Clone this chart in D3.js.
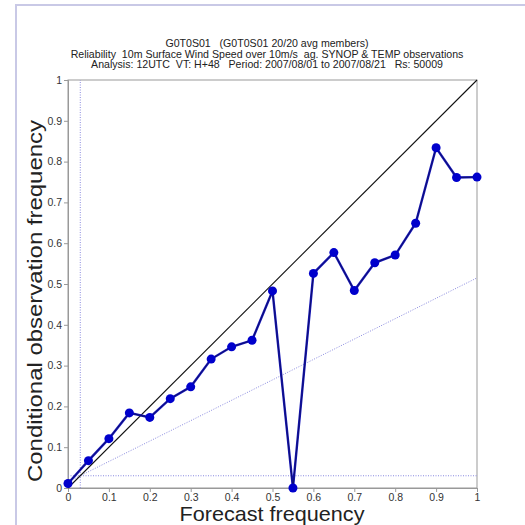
<!DOCTYPE html>
<html>
<head>
<meta charset="utf-8">
<script src="https://cdn.jsdelivr.net/npm/d3@7"></script>
<style>
  body { margin: 0; background: #fff; }
  svg { font-family: "Liberation Sans", Arial, sans-serif; }
  .tick text { fill: #333; font-size: 10.5px; }
  .title { font-size: 10.6px; fill: #222; text-anchor: middle; white-space: pre; }
</style>
</head>
<body>
<svg width="525" height="525"></svg>
<script>
// forecast probability bins and observed frequency
var forecastProb = [0, 0.05, 0.1, 0.15, 0.2, 0.25, 0.3, 0.35, 0.4, 0.45, 0.5,
                    0.55, 0.6, 0.65, 0.7, 0.75, 0.8, 0.85, 0.9, 0.95, 1];
var obsFreq = [0.011, 0.067, 0.121, 0.184, 0.173, 0.219, 0.248, 0.316, 0.346, 0.362, 0.483,
               0.0, 0.526, 0.577, 0.484, 0.552, 0.571, 0.649, 0.834, 0.761, 0.762];
var climate = 0.03;
var tickValues = [0, 0.1, 0.2, 0.3, 0.4, 0.5, 0.6, 0.7, 0.8, 0.9, 1];
var titleLines = [
    'G0T0S01   (G0T0S01 20/20 avg members)',
    'Reliability  10m Surface Wind Speed over 10m/s  ag. SYNOP & TEMP observations',
    'Analysis: 12UTC  VT: H+48   Period: 2007/08/01 to 2007/08/21   Rs: 50009'
];

var svg = d3.select('svg');

// outer frame
svg.append('rect')
    .attr('x', 16).attr('y', 5)
    .attr('width', 540).attr('height', 540)
    .attr('fill', 'none')
    .attr('stroke', '#c9c9e6')
    .attr('stroke-width', 2);

var xScale = d3.scaleLinear().domain([0, 1]).range([68, 477]);
var yScale = d3.scaleLinear().domain([0, 1]).range([488, 80]);

// titles
svg.selectAll('.title')
    .data(titleLines)
    .enter().append('text')
    .attr('class', 'title')
    .attr('x', 267)
    .attr('y', function (d, i) { return 47 + i * 10.5; })
    .text(function (d) { return d; });

// plot box
svg.append('rect')
    .attr('x', xScale(0)).attr('y', yScale(1))
    .attr('width', xScale(1) - xScale(0))
    .attr('height', yScale(0) - yScale(1))
    .attr('fill', 'none')
    .attr('stroke', '#999')
    .attr('stroke-width', 1);

// axes
var xAxis = d3.axisBottom(xScale).tickValues(tickValues).tickSize(4).tickPadding(2)
    .tickFormat(d3.format('~g'));
var yAxis = d3.axisLeft(yScale).tickValues(tickValues).tickSize(4).tickPadding(2)
    .tickFormat(d3.format('~g'));

var gx = svg.append('g').attr('transform', 'translate(0,' + yScale(0) + ')').call(xAxis);
var gy = svg.append('g').attr('transform', 'translate(' + xScale(0) + ',0)').call(yAxis);
[gx, gy].forEach(function (g) {
    g.select('.domain').attr('stroke', '#999');
    g.selectAll('.tick line').attr('stroke', '#999');
});

// climatology lines
var dotted = { stroke: '#8a8ae0', width: 1, dash: '1,1.5' };
svg.append('line')
    .attr('x1', xScale(climate)).attr('x2', xScale(climate))
    .attr('y1', yScale(0)).attr('y2', yScale(1))
    .attr('stroke', dotted.stroke).attr('stroke-width', dotted.width)
    .attr('stroke-dasharray', dotted.dash);
svg.append('line')
    .attr('x1', xScale(0)).attr('x2', xScale(1))
    .attr('y1', yScale(climate)).attr('y2', yScale(climate))
    .attr('stroke', dotted.stroke).attr('stroke-width', dotted.width)
    .attr('stroke-dasharray', dotted.dash);
// no-skill line
svg.append('line')
    .attr('x1', xScale(0)).attr('x2', xScale(1))
    .attr('y1', yScale(climate / 2)).attr('y2', yScale((1 + climate) / 2))
    .attr('stroke', dotted.stroke).attr('stroke-width', dotted.width)
    .attr('stroke-dasharray', dotted.dash);

// perfect reliability diagonal
svg.append('line')
    .attr('x1', xScale(0)).attr('x2', xScale(1))
    .attr('y1', yScale(0)).attr('y2', yScale(1))
    .attr('stroke', '#111').attr('stroke-width', 1.1);

// reliability curve
var pts = forecastProb.map(function (p, i) { return [p, obsFreq[i]]; });
var line = d3.line()
    .x(function (d) { return xScale(d[0]); })
    .y(function (d) { return yScale(d[1]); });

svg.append('path')
    .datum(pts)
    .attr('d', line)
    .attr('fill', 'none')
    .attr('stroke', '#1616b8')
    .attr('stroke-width', 2.4);
svg.append('path')
    .datum(pts)
    .attr('d', line)
    .attr('fill', 'none')
    .attr('stroke', '#0b0b60')
    .attr('stroke-width', 0.8);

svg.selectAll('.pt')
    .data(pts)
    .enter().append('circle')
    .attr('class', 'pt')
    .attr('cx', function (d) { return xScale(d[0]); })
    .attr('cy', function (d) { return yScale(d[1]); })
    .attr('r', 4.5)
    .attr('fill', '#0000cc');

// axis labels
svg.append('text')
    .attr('x', 272).attr('y', 521)
    .attr('text-anchor', 'middle')
    .style('font-size', '21px')
    .attr('fill', '#222')
    .attr('textLength', 185)
    .attr('lengthAdjust', 'spacingAndGlyphs')
    .text('Forecast frequency');

svg.append('text')
    .attr('transform', 'translate(42,' + (yScale(0.5) + 17) + ') rotate(-90)')
    .attr('text-anchor', 'middle')
    .style('font-size', '20px')
    .attr('fill', '#222')
    .attr('textLength', 362)
    .attr('lengthAdjust', 'spacingAndGlyphs')
    .text('Conditional observation frequency');
</script>
</body>
</html>
